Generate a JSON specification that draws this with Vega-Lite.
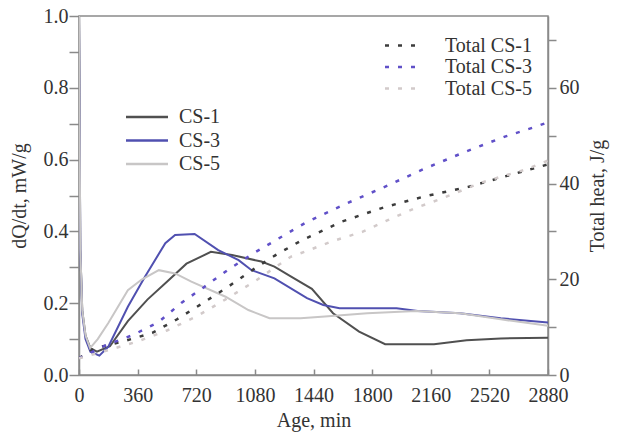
{
  "$schema": "https://vega.github.io/schema/vega-lite/v6.json",
  "width": 469,
  "height": 359,
  "autosize": {"type": "none"},
  "padding": {"left": 79, "top": 16, "right": 76, "bottom": 62},
  "background": "white",
  "config": {
    "view": {"stroke": "#8a8a8a", "strokeWidth": 1.5},
    "font": "Liberation Serif",
    "axis": {
      "domainColor": "#8a8a8a", "domainWidth": 1.5, "tickColor": "#8a8a8a", "tickWidth": 1.5,
      "labelFont": "Liberation Serif", "labelFontSize": 20, "labelColor": "#333333",
      "titleFont": "Liberation Serif", "titleFontSize": 20, "titleFontWeight": "normal", "titleColor": "#333333",
      "grid": false, "labelOverlap": false, "labelFlush": false
    },
    "legend": {"labelFont": "Liberation Serif", "labelFontSize": 20, "labelColor": "#333333", "padding": 0}
  },
  "datasets": {
    "rate": [
      {"t": 0, "series": "CS-1", "v": 1.0}, {"t": 8, "series": "CS-1", "v": 0.35}, {"t": 20, "series": "CS-1", "v": 0.18}, {"t": 40, "series": "CS-1", "v": 0.11}, {"t": 70, "series": "CS-1", "v": 0.075}, {"t": 110, "series": "CS-1", "v": 0.065}, {"t": 190, "series": "CS-1", "v": 0.08}, {"t": 300, "series": "CS-1", "v": 0.15}, {"t": 420, "series": "CS-1", "v": 0.21}, {"t": 540, "series": "CS-1", "v": 0.26}, {"t": 660, "series": "CS-1", "v": 0.31}, {"t": 810, "series": "CS-1", "v": 0.343}, {"t": 940, "series": "CS-1", "v": 0.334}, {"t": 1120, "series": "CS-1", "v": 0.316}, {"t": 1200, "series": "CS-1", "v": 0.302}, {"t": 1300, "series": "CS-1", "v": 0.275}, {"t": 1430, "series": "CS-1", "v": 0.24}, {"t": 1560, "series": "CS-1", "v": 0.172}, {"t": 1720, "series": "CS-1", "v": 0.121}, {"t": 1880, "series": "CS-1", "v": 0.086}, {"t": 2180, "series": "CS-1", "v": 0.086}, {"t": 2380, "series": "CS-1", "v": 0.097}, {"t": 2590, "series": "CS-1", "v": 0.102}, {"t": 2880, "series": "CS-1", "v": 0.104},
      {"t": 0, "series": "CS-3", "v": 1.0}, {"t": 8, "series": "CS-3", "v": 0.35}, {"t": 20, "series": "CS-3", "v": 0.17}, {"t": 40, "series": "CS-3", "v": 0.1}, {"t": 70, "series": "CS-3", "v": 0.065}, {"t": 125, "series": "CS-3", "v": 0.054}, {"t": 180, "series": "CS-3", "v": 0.079}, {"t": 300, "series": "CS-3", "v": 0.19}, {"t": 405, "series": "CS-3", "v": 0.274}, {"t": 530, "series": "CS-3", "v": 0.367}, {"t": 590, "series": "CS-3", "v": 0.39}, {"t": 710, "series": "CS-3", "v": 0.393}, {"t": 855, "series": "CS-3", "v": 0.348}, {"t": 980, "series": "CS-3", "v": 0.32}, {"t": 1060, "series": "CS-3", "v": 0.292}, {"t": 1200, "series": "CS-3", "v": 0.269}, {"t": 1400, "series": "CS-3", "v": 0.214}, {"t": 1500, "series": "CS-3", "v": 0.195}, {"t": 1600, "series": "CS-3", "v": 0.186}, {"t": 1950, "series": "CS-3", "v": 0.186}, {"t": 2080, "series": "CS-3", "v": 0.178}, {"t": 2340, "series": "CS-3", "v": 0.172}, {"t": 2590, "series": "CS-3", "v": 0.158}, {"t": 2880, "series": "CS-3", "v": 0.146},
      {"t": 0, "series": "CS-5", "v": 1.0}, {"t": 8, "series": "CS-5", "v": 0.35}, {"t": 20, "series": "CS-5", "v": 0.18}, {"t": 40, "series": "CS-5", "v": 0.11}, {"t": 68, "series": "CS-5", "v": 0.075}, {"t": 115, "series": "CS-5", "v": 0.1}, {"t": 180, "series": "CS-5", "v": 0.145}, {"t": 300, "series": "CS-5", "v": 0.236}, {"t": 385, "series": "CS-5", "v": 0.266}, {"t": 490, "series": "CS-5", "v": 0.292}, {"t": 590, "series": "CS-5", "v": 0.283}, {"t": 690, "series": "CS-5", "v": 0.26}, {"t": 900, "series": "CS-5", "v": 0.218}, {"t": 1040, "series": "CS-5", "v": 0.181}, {"t": 1170, "series": "CS-5", "v": 0.158}, {"t": 1360, "series": "CS-5", "v": 0.158}, {"t": 1510, "series": "CS-5", "v": 0.163}, {"t": 1770, "series": "CS-5", "v": 0.172}, {"t": 2070, "series": "CS-5", "v": 0.178}, {"t": 2340, "series": "CS-5", "v": 0.172}, {"t": 2590, "series": "CS-5", "v": 0.155}, {"t": 2880, "series": "CS-5", "v": 0.137}
    ],
    "heat": [
      {"t": 0, "total": "Total CS-1", "H": 3.5}, {"t": 100, "total": "Total CS-1", "H": 5.6}, {"t": 270, "total": "Total CS-1", "H": 7.0}, {"t": 450, "total": "Total CS-1", "H": 8.8}, {"t": 600, "total": "Total CS-1", "H": 11.6}, {"t": 750, "total": "Total CS-1", "H": 14.8}, {"t": 910, "total": "Total CS-1", "H": 18.3}, {"t": 1050, "total": "Total CS-1", "H": 21.6}, {"t": 1200, "total": "Total CS-1", "H": 24.9}, {"t": 1360, "total": "Total CS-1", "H": 28.0}, {"t": 1610, "total": "Total CS-1", "H": 32.0}, {"t": 1870, "total": "Total CS-1", "H": 35.0}, {"t": 2120, "total": "Total CS-1", "H": 37.3}, {"t": 2390, "total": "Total CS-1", "H": 39.3}, {"t": 2660, "total": "Total CS-1", "H": 41.9}, {"t": 2880, "total": "Total CS-1", "H": 44.0},
      {"t": 0, "total": "Total CS-3", "H": 3.5}, {"t": 170, "total": "Total CS-3", "H": 6.3}, {"t": 335, "total": "Total CS-3", "H": 8.4}, {"t": 490, "total": "Total CS-3", "H": 11.1}, {"t": 630, "total": "Total CS-3", "H": 15.1}, {"t": 765, "total": "Total CS-3", "H": 18.3}, {"t": 920, "total": "Total CS-3", "H": 22.1}, {"t": 1070, "total": "Total CS-3", "H": 25.4}, {"t": 1225, "total": "Total CS-3", "H": 28.5}, {"t": 1385, "total": "Total CS-3", "H": 31.7}, {"t": 1620, "total": "Total CS-3", "H": 35.5}, {"t": 1870, "total": "Total CS-3", "H": 39.2}, {"t": 2115, "total": "Total CS-3", "H": 43.0}, {"t": 2370, "total": "Total CS-3", "H": 46.6}, {"t": 2615, "total": "Total CS-3", "H": 49.8}, {"t": 2790, "total": "Total CS-3", "H": 51.7}, {"t": 2880, "total": "Total CS-3", "H": 52.8},
      {"t": 0, "total": "Total CS-5", "H": 3.5}, {"t": 180, "total": "Total CS-5", "H": 5.2}, {"t": 360, "total": "Total CS-5", "H": 7.0}, {"t": 540, "total": "Total CS-5", "H": 9.3}, {"t": 720, "total": "Total CS-5", "H": 12.2}, {"t": 900, "total": "Total CS-5", "H": 15.8}, {"t": 1080, "total": "Total CS-5", "H": 19.6}, {"t": 1300, "total": "Total CS-5", "H": 24.7}, {"t": 1390, "total": "Total CS-5", "H": 25.8}, {"t": 1560, "total": "Total CS-5", "H": 28.0}, {"t": 1740, "total": "Total CS-5", "H": 29.9}, {"t": 1900, "total": "Total CS-5", "H": 32.4}, {"t": 2060, "total": "Total CS-5", "H": 34.8}, {"t": 2230, "total": "Total CS-5", "H": 36.9}, {"t": 2470, "total": "Total CS-5", "H": 40.2}, {"t": 2750, "total": "Total CS-5", "H": 43.0}, {"t": 2880, "total": "Total CS-5", "H": 44.8}
    ]
  },
  "layer": [
    {
      "data": {"name": "rate"},
      "mark": {"type": "line", "strokeWidth": 2, "clip": true},
      "encoding": {
        "x": {"field": "t", "type": "quantitative", "scale": {"domain": [0, 2880], "nice": false},
          "axis": {"title": "Age, min", "values": [0, 360, 720, 1080, 1440, 1800, 2160, 2520, 2880], "format": "d", "tickSize": -6, "labelPadding": 16, "titlePadding": 5}},
        "y": {"field": "v", "type": "quantitative", "scale": {"domain": [0, 1], "nice": false},
          "axis": {"title": "dQ/dt, mW/g", "orient": "left", "values": [0, 0.1, 0.2, 0.3, 0.4, 0.5, 0.6, 0.7, 0.8, 0.9, 1.0], "labelExpr": "round(datum.value*10)%2==0 ? format(datum.value,'.1f') : ''", "tickSize": 10, "labelPadding": 1, "titlePadding": 14}},
        "color": {"field": "series", "type": "nominal",
          "scale": {"domain": ["CS-1", "CS-3", "CS-5"], "range": ["#505050", "#5050b0", "#c8c6c6"]},
          "legend": {"title": null, "orient": "none", "legendX": 58, "legendY": 91, "symbolType": "M-4.2,0L4.2,0", "symbolSize": 100, "symbolStrokeWidth": 2.5, "labelOffset": 22, "rowPadding": 3.5}},
        "order": {"field": "t", "type": "quantitative"}
      }
    },
    {
      "data": {"name": "heat"},
      "mark": {"type": "line", "strokeWidth": 2.5, "strokeDash": [4, 9], "clip": true},
      "encoding": {
        "x": {"field": "t", "type": "quantitative", "scale": {"domain": [0, 2880], "nice": false}},
        "y": {"field": "H", "type": "quantitative", "scale": {"domain": [0, 75], "nice": false},
          "axis": {"title": "Total heat, J/g", "orient": "right", "values": [0, 10, 20, 30, 40, 50, 60, 70], "labelExpr": "datum.value%20==0 ? datum.value : ''", "tickSize": 8, "labelPadding": 3, "titlePadding": 28, "titleAngle": 270}},
        "color": {"field": "total", "type": "nominal",
          "scale": {"domain": ["Total CS-1", "Total CS-3", "Total CS-5"], "range": ["#3c3c3c", "#6050c8", "#d2caca"]},
          "legend": {"title": null, "orient": "none", "legendX": 315, "legendY": 19.5, "symbolType": "M-3.8,0L3.8,0", "symbolSize": 100, "symbolStrokeWidth": 2.5, "symbolDash": [4, 9], "labelOffset": 31, "rowPadding": 1.5}},
        "order": {"field": "t", "type": "quantitative"}
      }
    }
  ],
  "resolve": {"scale": {"y": "independent", "color": "independent"}}
}
